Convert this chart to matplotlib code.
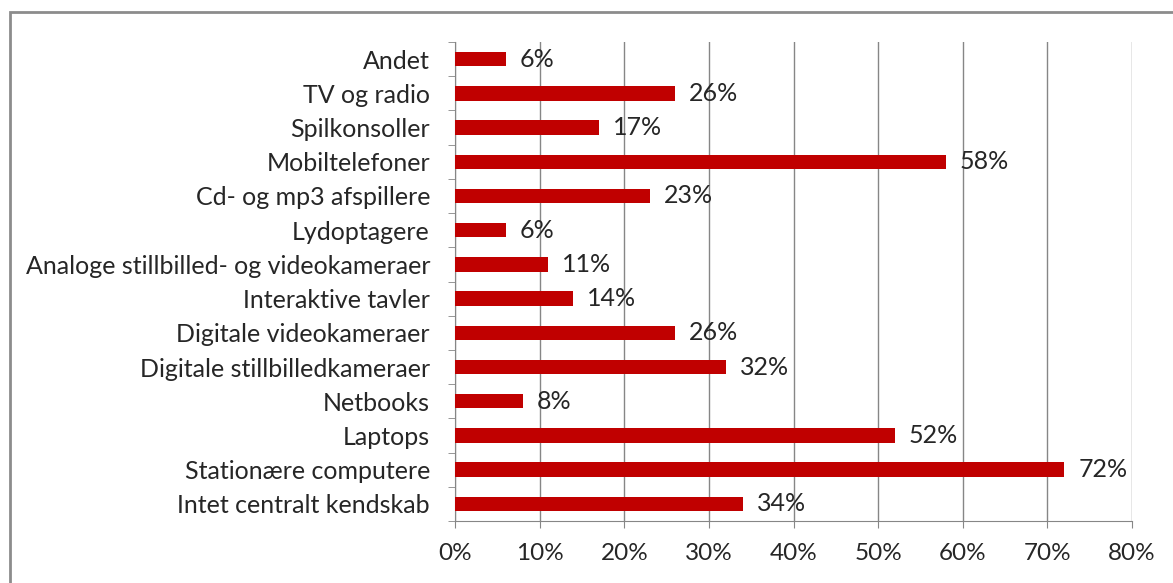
import matplotlib.pyplot as plt
from matplotlib.patches import Rectangle
from matplotlib.ticker import FixedLocator, PercentFormatter

# ------------------------------------------------------------------
# DATA  (top to bottom as shown in the chart)
# ------------------------------------------------------------------
categories = [
    "Andet",
    "TV og radio",
    "Spilkonsoller",
    "Mobiltelefoner",
    "Cd- og mp3 afspillere",
    "Lydoptagere",
    "Analoge stillbilled- og videokameraer",
    "Interaktive tavler",
    "Digitale videokameraer",
    "Digitale stillbilledkameraer",
    "Netbooks",
    "Laptops",
    "Stationære computere",
    "Intet centralt kendskab",
]
values = [6, 26, 17, 58, 23, 6, 11, 14, 26, 32, 8, 52, 72, 34]
x_ticks = [0, 10, 20, 30, 40, 50, 60, 70, 80]

BAR_COLOR  = "#C00000"
GRID_COLOR = "#868686"
TEXT_COLOR = "#262626"
FS = 18

plt.rcParams["font.family"] = ["Lato", "DejaVu Sans"]

fig = plt.figure(figsize=(11.73, 5.83), dpi=100)
ax = fig.add_axes([455 / 1173, 1 - 521 / 583, (1132 - 455) / 1173, (521 - 42) / 583])

# outer chart border (only top/left visible in the crop)
fig.patches.append(Rectangle((10 / 1173, -0.1), 1.2, 1 - 12 / 583 + 0.1,
                             transform=fig.transFigure, fill=False,
                             edgecolor="#8c8c8c", linewidth=2))

n = len(categories)
ypos = list(range(n))[::-1]
ax.barh(ypos, values, height=0.42, color=BAR_COLOR, zorder=3)

for y, v in zip(ypos, values):
    ax.annotate(f"{v}%", xy=(v, y), xytext=(10, 0), textcoords="offset points",
                ha="left", va="center", fontsize=FS, color=TEXT_COLOR)

ax.set_xlim(0, 80)
ax.set_ylim(-0.5, n - 0.5)
ax.set_xticks(x_ticks)
ax.xaxis.set_major_formatter(PercentFormatter(decimals=0))
ax.set_yticks(ypos)
ax.set_yticklabels(categories)
ax.yaxis.set_minor_locator(FixedLocator([i - 0.5 for i in range(n + 1)]))
ax.tick_params(axis="y", which="major", length=0, pad=18, labelsize=FS, labelcolor=TEXT_COLOR)
ax.tick_params(axis="y", which="minor", length=5, color=GRID_COLOR, direction="out")
ax.tick_params(axis="x", length=5, color=GRID_COLOR, pad=11, labelsize=17.5, labelcolor=TEXT_COLOR)

ax.grid(axis="x", color=GRID_COLOR, linewidth=1, zorder=0)
ax.set_axisbelow(True)
for side in ["top", "right"]:
    ax.spines[side].set_visible(False)
for side in ["left", "bottom"]:
    ax.spines[side].set_color(GRID_COLOR)

fig.savefig("out.png", dpi=100)
